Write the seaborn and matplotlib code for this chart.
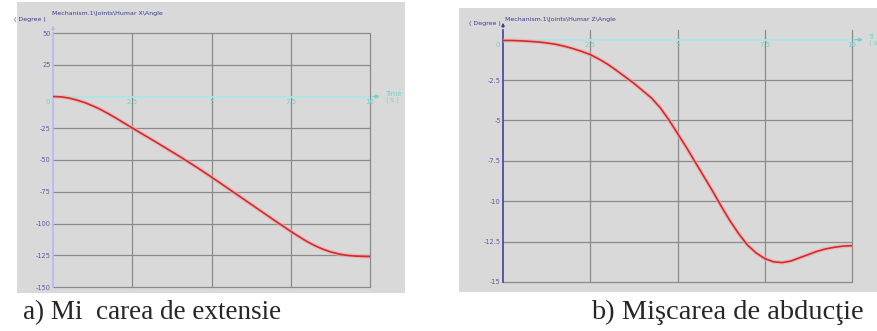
import matplotlib.pyplot as plt
import matplotlib.patheffects as pe
import pandas as pd
import seaborn as sns

time_s = [0, 0.25, 0.5, 0.75, 1.0, 1.25, 1.5, 1.75, 2.0, 2.25, 2.5, 2.75, 3.0, 3.25,
          3.5, 3.75, 4.0, 4.25, 4.5, 4.75, 5.0, 5.25, 5.5, 5.75, 6.0, 6.25, 6.5,
          6.75, 7.0, 7.25, 7.5, 7.75, 8.0, 8.25, 8.5, 8.75, 9.0, 9.25, 9.5, 9.75, 10.0]
angle_x = [0, -0.3, -1.2, -2.8, -4.8, -7.3, -10.2, -13.6, -17.2, -21, -24.8, -28.5,
           -32.2, -35.9, -39.7, -43.5, -47.3, -51.2, -55.2, -59.3, -63.5, -67.7, -72,
           -76.3, -80.6, -84.9, -89.2, -93.5, -97.8, -102, -106.2, -110.2, -114,
           -117.3, -120.1, -122.3, -123.9, -125, -125.6, -125.9, -126]
angle_z = [-0.05, -0.05, -0.07, -0.1, -0.14, -0.2, -0.28, -0.4, -0.55, -0.72, -0.92,
           -1.2, -1.52, -1.9, -2.3, -2.7, -3.15, -3.6, -4.2, -4.95, -5.8, -6.65, -7.55,
           -8.45, -9.35, -10.3, -11.2, -12.0, -12.7, -13.2, -13.55, -13.75, -13.8,
           -13.7, -13.5, -13.3, -13.1, -12.95, -12.85, -12.78, -12.75]

xticks = [0, 2.5, 5, 7.5, 10]
xtick_labels = ['0', '2.5', '5', '7.5', '10']
yticks_a = [50, 25, 0, -25, -50, -75, -100, -125, -150]
yticks_b = [0, -2.5, -5, -7.5, -10, -12.5, -15]

title_a = 'Mechanism.1\\Joints\\Humar X\\Angle'
title_b = 'Mechanism.1\\Joints\\Humar Z\\Angle'
caption_a = 'a) Mi  carea de extensie'
caption_b = 'b) Mişcarea de abducţie'

sns.set_style('white')
plt.rcParams['font.family'] = ['DejaVu Sans']

W, H = 877, 331
fig = plt.figure(figsize=(W / 100, H / 100), dpi=100)
fig.patch.set_facecolor('white')

GRAY = '#d9d9d9'
GRID = '#8a8a8a'
CYAN = '#a8e8e8'
CYAN_TXT = '#6fd2d2'
LABEL = '#5a5aa8'
RED = '#d42a2a'
NAVY = '#3a3a90'


def px_axes(x0, y0, x1, y1):
    return fig.add_axes([x0 / W, 1 - y1 / H, (x1 - x0) / W, (y1 - y0) / H])


def ftext(x, y, s, **kw):
    return fig.text(x / W, 1 - y / H, s, **kw)


def panel(box, ax_box, x, y, yticks, ylim, yaxis_color, ylabel_fmt, time_txt):
    bg = px_axes(*box)
    bg.set_facecolor(GRAY)
    bg.set_xticks([])
    bg.set_yticks([])
    for s in bg.spines.values():
        s.set_visible(False)
    bg.set_zorder(-1)

    ax = px_axes(*ax_box)
    ax.set_facecolor('none')
    df = pd.DataFrame({'t': x, 'a': y})
    sns.lineplot(data=df, x='t', y='a', ax=ax, color=RED, lw=1.2, zorder=5,
                 path_effects=[pe.Stroke(linewidth=3.0, foreground='#f2a8a8', alpha=0.6),
                               pe.Normal()])
    ax.set_xlim(0, 10)
    ax.set_ylim(*ylim)
    ax.set_xticks([2.5, 5, 7.5, 10])
    ax.set_xticklabels([])
    ax.set_yticks([v for v in yticks if v != 0])
    ax.set_yticklabels([ylabel_fmt(v) for v in yticks if v != 0], fontsize=4.8, color=LABEL)
    ax.tick_params(axis='both', length=0, pad=1.5)
    ax.grid(True, color=GRID, lw=0.9)
    for gl in ax.get_xgridlines() + ax.get_ygridlines():
        gl.set_clip_on(False)
    for s in ['top', 'right', 'bottom']:
        ax.spines[s].set_visible(False)
    ax.spines['left'].set_color(yaxis_color)
    ax.spines['left'].set_linewidth(1.2)
    ax.spines['left'].set_zorder(4)
    ax.set_xlabel('')
    ax.set_ylabel('')
    # time axis at zero
    ax.axhline(0, color=CYAN, lw=1.2, zorder=3)
    ax.annotate('', xy=(10.4, 0), xytext=(10.0, 0), annotation_clip=False,
                arrowprops=dict(arrowstyle='-|>', color=CYAN_TXT, lw=1.0, mutation_scale=5))
    ax.text(10.5, 0, time_txt[0], fontsize=4.8, color=CYAN_TXT, va='bottom', ha='left')
    ax.text(10.5, 0, time_txt[1], fontsize=4.8, color=CYAN_TXT, va='top', ha='left')
    yr = ylim[1] - ylim[0]
    for xv, lab in zip(xticks, xtick_labels):
        ax.text(xv - (0.1 if xv == 0 else 0), -0.008 * yr, lab, fontsize=5, color=CYAN_TXT,
                ha='right' if xv == 0 else 'center', va='top')
    ax.annotate('', xy=(0, ylim[1] + 0.04 * yr), xytext=(0, ylim[1]), annotation_clip=False,
                arrowprops=dict(arrowstyle='-|>', color=yaxis_color, lw=1.0, mutation_scale=4))
    return ax


ax_a = panel((17, 2, 405, 293), (53, 33, 370, 287), time_s, angle_x, yticks_a, (-150, 50),
             '#b8b8f0', lambda v: '%d' % v, ('Time', '( s )'))
ax_b = panel((459, 8, 877, 292), (503, 30, 852, 282), time_s, angle_z, yticks_b, (-15, 0.6),
             '#40409a', lambda v: ('%g' % v), ('Ti', '( s'))

ftext(52, 14, title_a, fontsize=4.5, color=NAVY, ha='left', va='center')
ftext(46, 20, '( Degree )', fontsize=4.5, color=NAVY, ha='right', va='center')
ftext(505, 19, title_b, fontsize=4.5, color=NAVY, ha='left', va='center')
ftext(501, 24, '( Degree )', fontsize=4.5, color=NAVY, ha='right', va='center')

ftext(23, 319, caption_a, fontsize=19.5, family='Liberation Serif', ha='left', va='baseline')
ftext(727, 319, caption_b, fontsize=20.5, family='Liberation Serif', ha='center', va='baseline')

fig.savefig('out.png', dpi=100)
